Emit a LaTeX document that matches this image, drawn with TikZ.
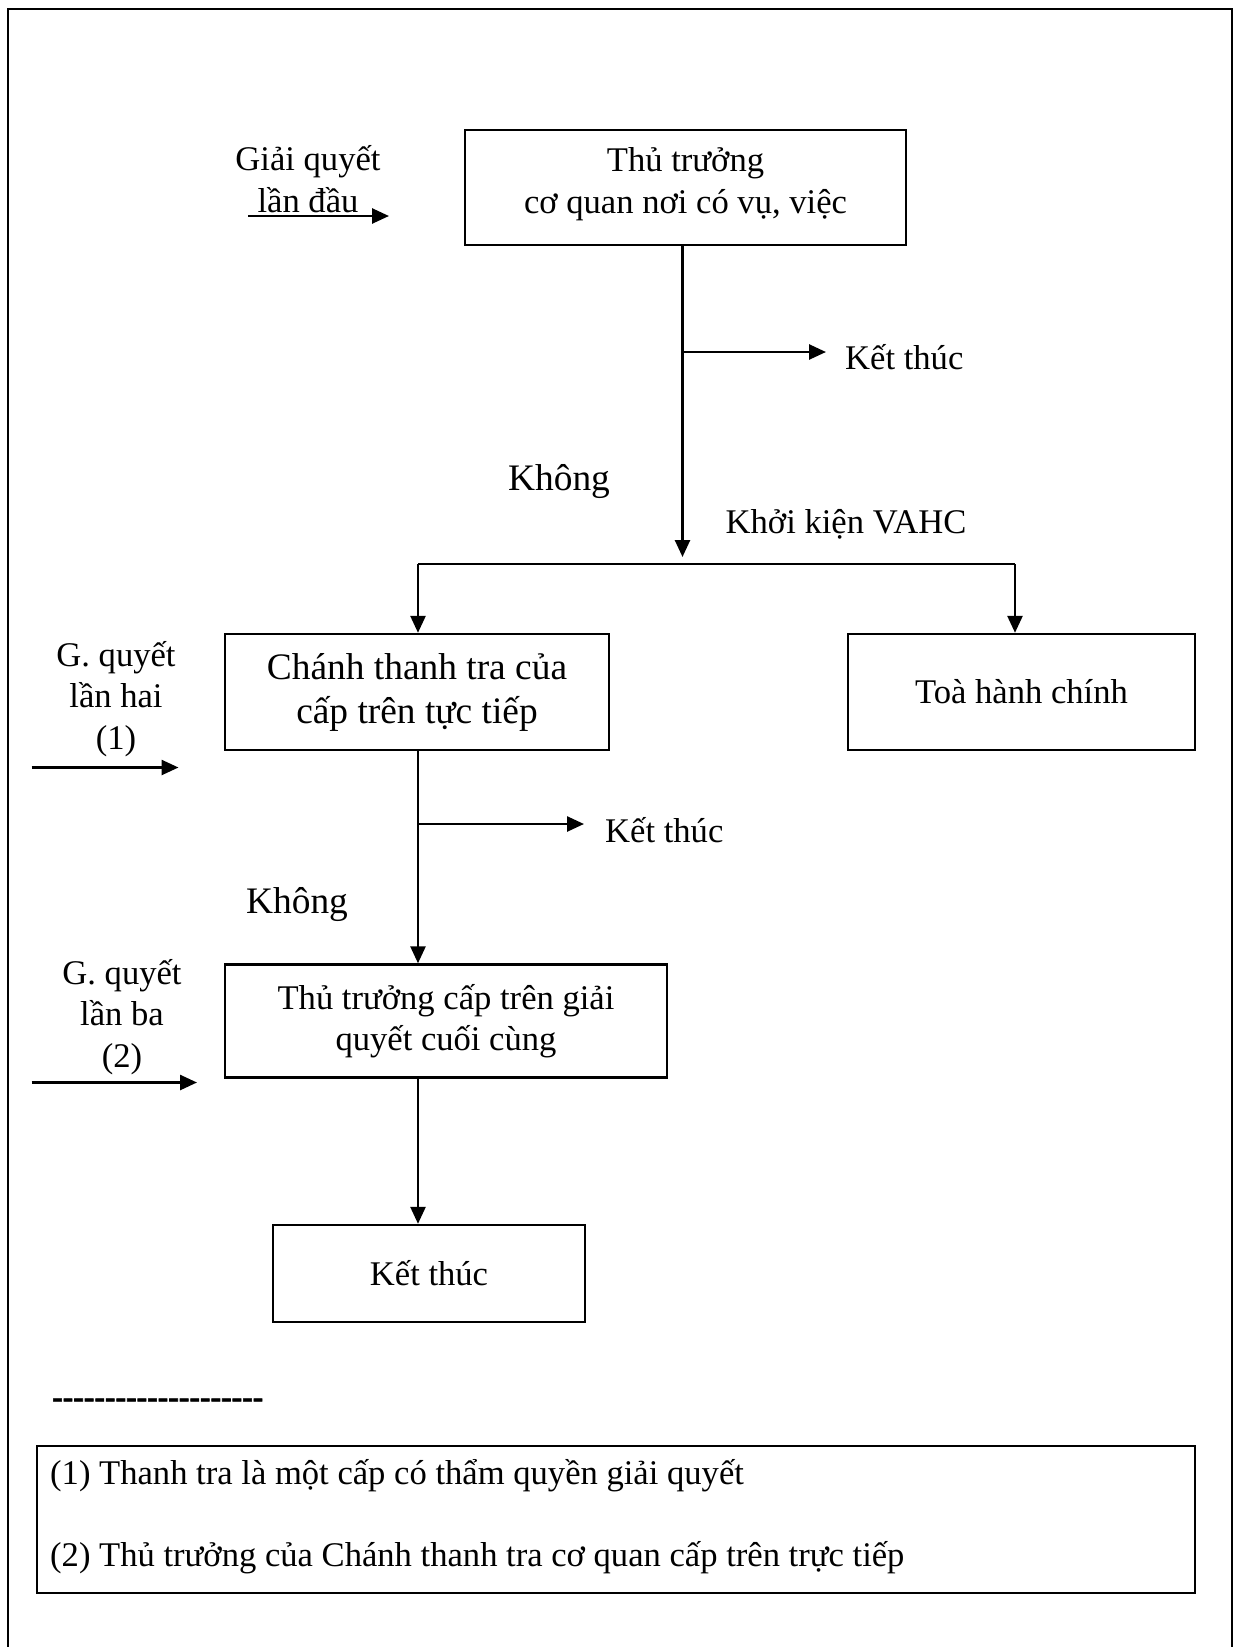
\documentclass[tikz,border=0pt]{standalone}
\usepackage{fontspec}
\setmainfont{Liberation Serif}
\newfontfamily\dashfont[Ligatures=TeXOff, FakeBold=2]{Liberation Serif Bold}
\usetikzlibrary{arrows.meta}

\begin{document}
\begin{tikzpicture}[x=1pt,y=-1pt,
  every node/.style={inner sep=0pt, font=\fontsize{34.6}{41.5}\selectfont},
  box/.style={draw, line width=2.4pt, align=center},
  big/.style={font=\fontsize{37.4}{44}\selectfont},
  conn/.style={line width=2.6pt, -{Triangle[length=17pt,width=15pt]}},
  link/.style={line width=2.6pt},
  lbl/.style={align=center}]
\useasboundingbox (0,0) rectangle (1240,1647);

% page frame, open at the bottom
\draw[line width=2.4pt] (8,1647) -- (8,9) -- (1232,9) -- (1232,1647);

% process boxes
\node[box, minimum width=441pt, minimum height=115pt] (b1) at (685.5,187.5) {};
\node[lbl] (b1t) at (685.5,184) {Thủ trưởng\\cơ quan nơi có vụ, việc};
\node[box, big, minimum width=384pt, minimum height=116pt] (b2) at (417,692)
  {Chánh thanh tra của\\cấp trên tực tiếp};
\node[box, minimum width=347pt, minimum height=116pt] (b3) at (1021.5,692)
  {Toà hành chính};
\node[box, minimum width=442pt, minimum height=113pt] (b4) at (446,1021)
  {Thủ trưởng cấp trên giải\\quyết cuối cùng};
\node[box, minimum width=312pt, minimum height=97pt] (b5) at (429,1273.5)
  {Kết thúc};

% side labels
\node[lbl] (g1) at (308,179) {Giải quyết\\lần đầu};
\node[lbl] (g2) at (116,699) {G. quyết\\lần hai\\(1)};
\node[lbl] (g3) at (122,1017) {G. quyết\\lần ba\\(2)};
\node[anchor=west] (k1) at (845,357) {Kết thúc};
\node[anchor=west] (k2) at (605,830) {Kết thúc};
\node[big] (no1) at (559,482) {Không};
\node[big] (no2) at (297,905) {Không};
\node (kk) at (846,524) {Khởi kiện VAHC};

% routing points
\coordinate (t1) at (682.5,352);
\coordinate (j1) at (682.5,557);
\coordinate (e1) at (826,352);
\coordinate (sl) at (418,564);
\coordinate (sr) at (1015,564);
\coordinate (t2) at (418,824);
\coordinate (e2) at (584,824);
\coordinate (t3) at (418,1150);

% incoming arrows on the left
\coordinate (a1s) at (248,216);  \coordinate (a1e) at (389,216);
\coordinate (a2s) at (31.5,767.5); \coordinate (a2e) at (178.5,767.5);
\coordinate (a3s) at (31.5,1082.5); \coordinate (a3e) at (197,1082.5);
\draw[conn] (a1s) -- (a1e);
\draw[conn] (a2s) -- (a2e);
\draw[conn] (a3s) -- (a3e);

% flow
\draw[conn] (b1.south -| t1) -- (j1);
\draw[conn] (t1) -- (e1);
\draw[link] (sl) -- (sr);
\draw[conn] (sl) -- (sl |- b2.north);
\draw[conn] (sr) -- (sr |- b3.north);
\draw[conn] (b2.south -| t2) -- (t2 |- b4.north);
\draw[conn] (t2) -- (e2);
\draw[conn] (b4.south -| t3) -- (t3 |- b5.north);

% separator and notes
\node[anchor=west, font=\dashfont\fontsize{31.7}{38}\selectfont] (dash) at (52,1403) {--------------------};
\node[draw, line width=2.4pt, minimum width=1158pt, minimum height=147pt] (nb) at (616,1519.5) {};
\node[anchor=west] (n1) at (50,1476) {(1) Thanh tra là một cấp có thẩm quyền giải quyết};
\node[anchor=west] (n2) at (50,1558) {(2) Thủ trưởng của Chánh thanh tra cơ quan cấp trên trực tiếp};
\end{tikzpicture}
\end{document}
